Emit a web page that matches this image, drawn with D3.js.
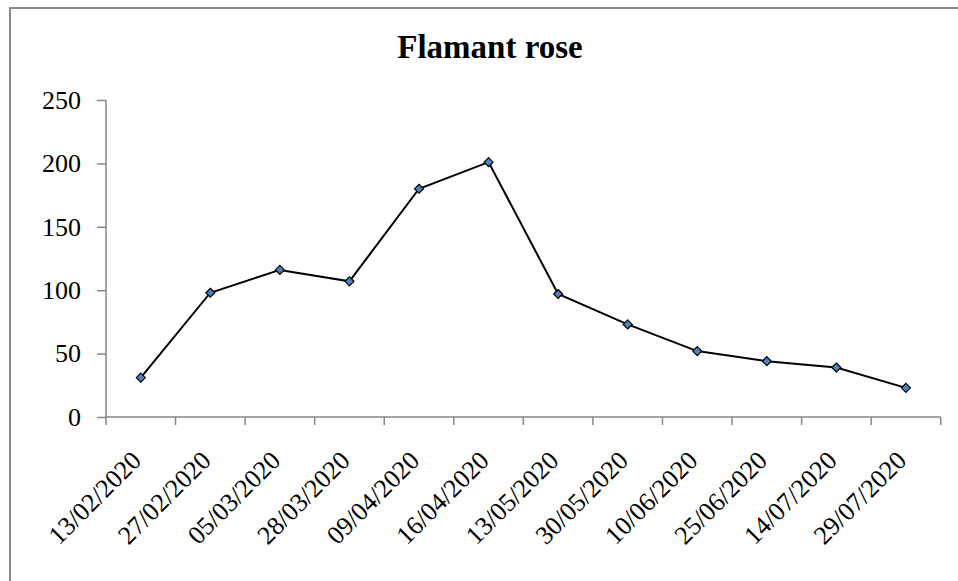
<!DOCTYPE html>
<html>
<head>
<meta charset="utf-8">
<script src="https://cdn.jsdelivr.net/npm/d3@7"></script>
<style>
  html, body { margin: 0; padding: 0; background: #fff; }
  svg { display: block; }
  text { font-family: "Liberation Serif", "Times New Roman", serif; fill: #000; }
</style>
</head>
<body>
<svg id="chart" width="958" height="581"></svg>
<script>
const title = "Flamant rose";
const categories = ["13/02/2020","27/02/2020","05/03/2020","28/03/2020","09/04/2020","16/04/2020","13/05/2020","30/05/2020","10/06/2020","25/06/2020","14/07/2020","29/07/2020"];
const values = [31, 98, 116, 107, 180, 201, 97, 73, 52, 44, 39, 23];
const yTicks = [0, 50, 100, 150, 200, 250];

const svg = d3.select("#chart");
const plot = { left: 106, right: 940.7, top: 100, bottom: 417 };
const axisColor = "#868686";

// outer frame
svg.append("rect")
  .attr("x", 10).attr("y", 8)
  .attr("width", 970).attr("height", 600)
  .attr("fill", "none").attr("stroke", "#8a8a8a").attr("stroke-width", 2);

// title
svg.append("text")
  .attr("x", 490).attr("y", 58)
  .attr("text-anchor", "middle")
  .style("font-size", "33px").style("font-weight", "bold")
  .text(title);

const x = d3.scaleBand().domain(categories).range([plot.left, plot.right]).paddingInner(0).paddingOuter(0);
const y = d3.scaleLinear().domain([0, 250]).range([plot.bottom, plot.top]);

// Y axis
const yAxis = svg.append("g")
  .attr("transform", `translate(${plot.left},0)`)
  .call(d3.axisLeft(y).tickValues(yTicks).tickSize(9).tickPadding(16).tickFormat(d3.format("d")));
yAxis.select(".domain").attr("stroke", axisColor).attr("stroke-width", 1.5).attr("d", `M0,${plot.top}V${plot.bottom}`);
yAxis.selectAll(".tick line").attr("stroke", axisColor).attr("stroke-width", 1.5);
yAxis.selectAll(".tick text").style("font-size", "26px").attr("fill", "#000")
  .style("font-family", '"Liberation Serif", "Times New Roman", serif');

// X axis: ticks at band boundaries
const xAxisG = svg.append("g").attr("transform", `translate(0,${plot.bottom})`);
xAxisG.append("line")
  .attr("x1", plot.left).attr("x2", plot.right)
  .attr("y1", 0).attr("y2", 0)
  .attr("stroke", axisColor).attr("stroke-width", 1.5);
const boundaries = categories.map(c => x(c)).concat([x(categories[categories.length - 1]) + x.bandwidth()]);
xAxisG.selectAll("line.tk").data(boundaries).enter().append("line")
  .attr("class", "tk")
  .attr("x1", d => d).attr("x2", d => d)
  .attr("y1", 0).attr("y2", 8)
  .attr("stroke", axisColor).attr("stroke-width", 1.5);
xAxisG.selectAll("text.lbl").data(categories).enter().append("text")
  .attr("class", "lbl")
  .attr("text-anchor", "end")
  .attr("transform", d => `translate(${x(d) + x.bandwidth() / 2 + 2},${45}) rotate(-45)`)
  .style("font-size", "26px")
  .text(d => d);

// line
const cx = d => x(d) + x.bandwidth() / 2;
const data = categories.map((c, i) => ({ c, v: values[i] }));
svg.append("path")
  .datum(data)
  .attr("fill", "none").attr("stroke", "#000").attr("stroke-width", 2)
  .attr("d", d3.line().x(d => cx(d.c)).y(d => y(d.v)));

// markers
svg.selectAll("path.mk").data(data).enter().append("path")
  .attr("class", "mk")
  .attr("transform", d => `translate(${cx(d.c)},${y(d.v)})`)
  .attr("d", "M0,-4.5L4.5,0L0,4.5L-4.5,0Z")
  .attr("fill", "#4f81bd").attr("stroke", "#000").attr("stroke-width", 1.2);
</script>
</body>
</html>
